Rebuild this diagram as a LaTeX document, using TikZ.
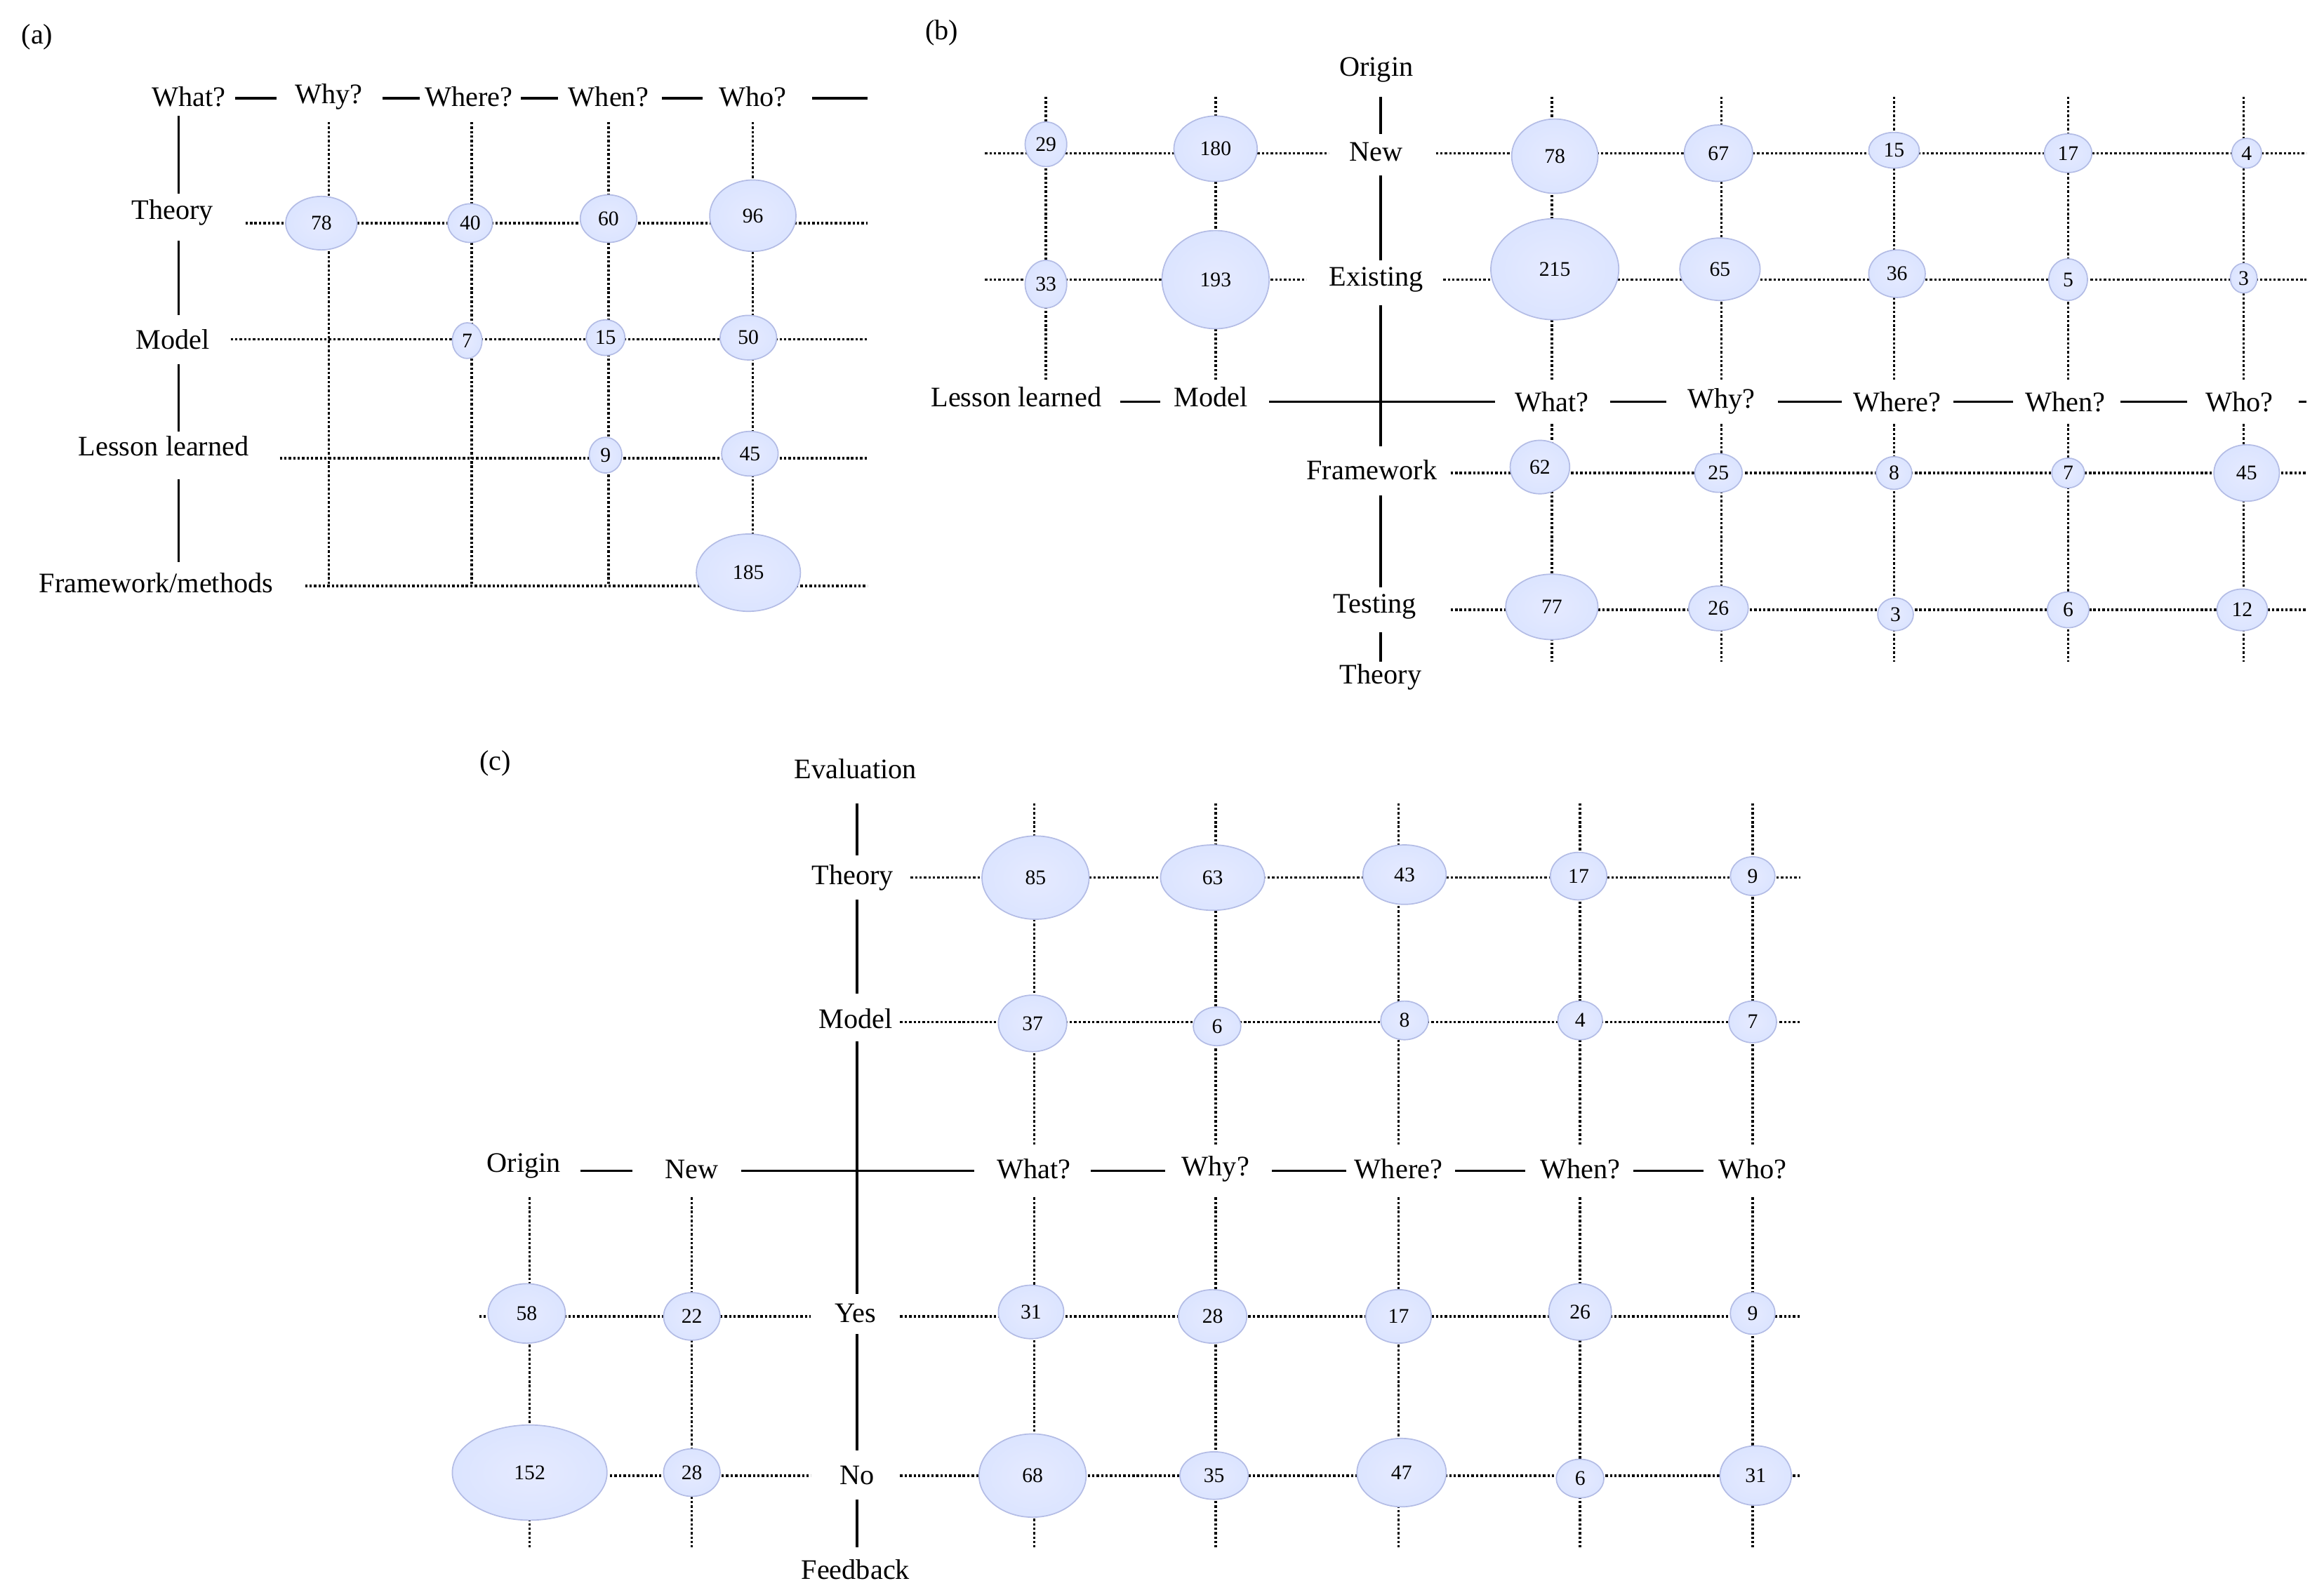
\documentclass[tikz,border=0pt]{standalone}
\usepackage{fontspec}
\setmainfont{Liberation Serif}
\usetikzlibrary{shapes.geometric}
\begin{document}
\begin{tikzpicture}[x=1pt,y=-1pt,
	axis/.style={line width=1.6pt},
	grid/.style={line width=1.6pt,dash pattern=on 1.6pt off 1.4pt},
	lab/.style={font=\fontsize{19}{21}\selectfont},
	bub/.style={ellipse,draw=cyan!35!blue!30,line width=0.8pt,inner sep=0pt,
		inner color=cyan!18!blue!10,outer color=cyan!25!blue!14,font=\fontsize{14}{16}\selectfont},
	]
	\newcommand*{\bubble}[6]{\node[bub,minimum width=#4,minimum height=#5] (#1) at (#2,#3) {#6};}
	\newcommand*{\hgrid}[3]{\draw[grid] (#1,#3) -- (#2,#3);}
	\newcommand*{\vgrid}[3]{\draw[grid] (#3,#1) -- (#3,#2);}
	\newcommand*{\hseg}[3]{\draw[axis] (#1,#3) -- (#2,#3);}
	\newcommand*{\vseg}[3]{\draw[axis] (#3,#1) -- (#3,#2);}

	\useasboundingbox (0,0) rectangle (1562,1072);

	% (a)
	\node[lab] (tagA) at (25,25) {(a)};
	\foreach \x/\t in {127/What?,221/Why?,315/Where?,409/When?,506/Who?}
		\node[lab] (a\t) at (\x,65) {\t};
	\foreach \a/\b in {158/186,257/282,350/375,445/472,546/583}
		{\hseg{\a}{\b}{66}}
	\node[lab] (aTheory) at (116,143) {Theory};
	\node[lab] (aModel) at (116,228) {Model};
	\node[lab] (aLesson) at (110,300) {Lesson learned};
	\node[lab] (aFrame) at (105,392) {Framework/methods};
	\foreach \a/\b in {78/130,162/212,245/290,322/378}
		{\vseg{\a}{\b}{120}}
	\hgrid{165}{583}{150}
	\hgrid{155}{583}{228}
	\hgrid{188}{583}{308}
	\hgrid{205}{583}{394}
	\foreach \x in {221,317,409,506}
		{\vgrid{82}{394}{\x}}
	\foreach \n/\x/\y/\w/\h in {78/216/150/48/36,40/316/150/30/26,60/409/147/38/32,96/506/145/58/48,
		7/314/229/20/24,15/407/227/26/24,50/503/227/38/30,9/407/306/22/24,45/504/305/38/30,185/503/385/70/52}
		{\bubble{a\n}{\x}{\y}{\w}{\h}{\n}}

	% (b)
	\node[lab] (tagB) at (633,22) {(b)};
	\node[lab] (bOrigin) at (925,47) {Origin};
	\node[lab] (bNew) at (925,102) {New};
	\node[lab] (bExisting) at (925,188) {Existing};
	\node[lab] (bFrame) at (922,316) {Framework};
	\node[lab] (bTesting) at (924,408) {Testing};
	\node[lab] (bTheory) at (928,455) {Theory};
	\node[lab] (bLesson) at (683,267) {Lesson learned};
	\node[lab] (bModel) at (814,267) {Model};
	\foreach \x/\t in {1043/What?,1157/Why?,1275/Where?,1388/When?,1505/Who?}
		\node[lab] (b\t) at (\x,270) {\t};
	\foreach \a/\b in {65/90,118/175,205/300,333/395,425/445}
		{\vseg{\a}{\b}{928}}
	\foreach \a/\b in {753/780,853/1005,1082/1120,1195/1238,1313/1353,1425/1470,1545/1550}
		{\hseg{\a}{\b}{270}}
	\hgrid{662}{893}{103}
	\hgrid{965}{1550}{103}
	\hgrid{662}{878}{188}
	\hgrid{970}{1550}{188}
	\hgrid{975}{1550}{318}
	\hgrid{975}{1550}{410}
	\foreach \x in {703,817,1043,1157,1273,1390,1508}
		{\vgrid{65}{255}{\x}}
	\foreach \x in {1043,1157,1273,1390,1508}
		{\vgrid{285}{445}{\x}}
	\foreach \k/\n/\x/\y/\w/\h in {1/29/703/97/28/30,2/180/817/100/56/44,3/78/1045/105/58/50,4/67/1155/103/46/38,
		5/15/1273/101/34/24,6/17/1390/103/32/26,7/4/1510/103/20/20,
		8/33/703/191/28/32,9/193/817/188/72/66,10/215/1045/181/86/68,11/65/1156/181/54/42,
		12/36/1275/184/38/32,13/5/1390/188/26/28,14/3/1508/187/18/20,
		15/62/1035/314/40/36,16/25/1155/318/32/26,17/8/1273/318/24/22,18/7/1390/318/22/20,19/45/1510/318/44/38,
		20/77/1043/408/62/44,21/26/1155/409/40/30,22/3/1274/413/24/22,23/6/1390/410/28/24,24/12/1507/410/34/28}
		{\bubble{b\k}{\x}{\y}{\w}{\h}{\n}}

	% (c)
	\node[lab] (tagC) at (333,513) {(c)};
	\node[lab] (cEval) at (575,517) {Evaluation};
	\node[lab] (cTheory) at (573,590) {Theory};
	\node[lab] (cModel) at (575,685) {Model};
	\node[lab] (cYes) at (575,883) {Yes};
	\node[lab] (cNo) at (576,992) {No};
	\node[lab] (cFeed) at (575,1055) {Feedback};
	\node[lab] (cOrigin) at (352,784) {Origin};
	\node[lab] (cNew) at (465,786) {New};
	\foreach \x/\t in {695/What?,817/Why?,940/Where?,1062/When?,1178/Who?}
		\node[lab] (c\t) at (\x,786) {\t};
	\foreach \a/\b in {540/575,605/668,700/870,897/975,1008/1040}
		{\vseg{\a}{\b}{576}}
	\foreach \a/\b in {390/425,498/655,733/783,855/905,978/1025,1098/1145}
		{\hseg{\a}{\b}{787}}
	\hgrid{612}{1210}{590}
	\hgrid{605}{1210}{687}
	\hgrid{605}{1210}{885}
	\hgrid{605}{1210}{992}
	\hgrid{322}{545}{885}
	\hgrid{410}{545}{992}
	\foreach \x in {695,817,940,1062,1178}
		{\vgrid{540}{770}{\x}}
	\foreach \x in {356,465,695,817,940,1062,1178}
		{\vgrid{805}{1040}{\x}}
	\foreach \k/\n/\x/\y/\w/\h in {1/85/696/590/72/56,2/63/815/590/70/44,3/43/944/588/56/40,4/17/1061/589/38/32,5/9/1178/589/30/26,
		6/37/694/688/46/38,7/6/818/690/32/26,8/8/944/686/32/26,9/4/1062/686/30/26,10/7/1178/687/32/28,
		11/58/354/883/52/40,12/22/465/885/38/32,13/31/693/882/44/36,14/28/815/885/46/36,15/17/940/885/44/36,16/26/1062/882/42/38,17/9/1178/883/30/28,
		18/152/356/990/104/64,19/28/465/990/38/32,20/68/694/992/72/56,21/35/816/992/46/32,22/47/942/990/60/46,23/6/1062/994/32/26,24/31/1180/992/48/40}
		{\bubble{c\k}{\x}{\y}{\w}{\h}{\n}}
\end{tikzpicture}
\end{document}
